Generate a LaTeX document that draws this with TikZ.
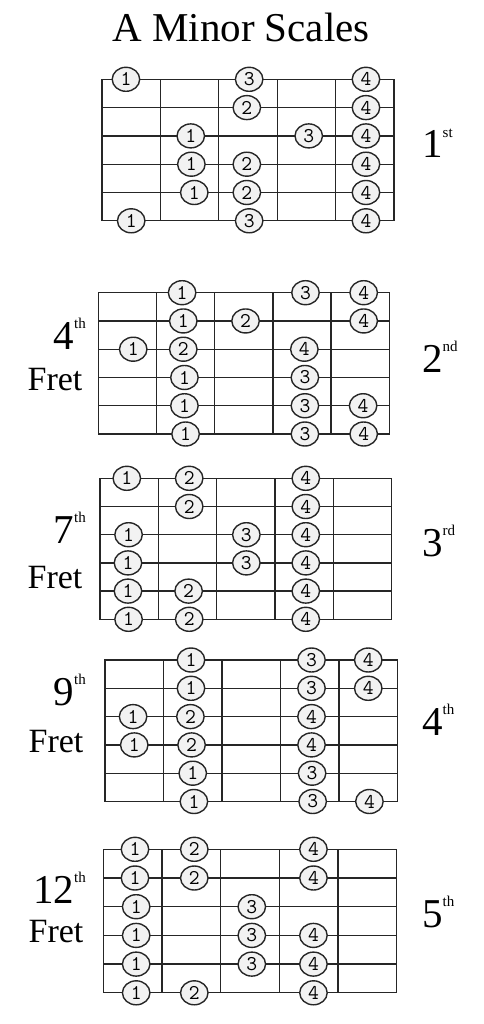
\documentclass[tikz,border=0pt]{standalone}
\usepackage{fontspec}
\setmainfont{Liberation Serif}
\usetikzlibrary{shapes.geometric}

\newcommand{\ordsup}[1]{\raisebox{0.5em}{\fontsize{15}{15}\selectfont #1}}

\begin{document}
\begin{tikzpicture}[x=1pt, y=-1pt,
    gridline/.style={line width=1.3pt, draw=black!85},
    fingerdot/.style={ellipse, draw=black!85, line width=1.4pt, fill=black!5,
        minimum width=27.5pt, minimum height=24pt, inner sep=0pt,
        font=\ttfamily\fontsize{21}{21}\selectfont},
    bignum/.style={inner sep=0pt, font=\fontsize{41}{41}\selectfont},
    fretword/.style={inner sep=0pt, anchor=base, font=\fontsize{34}{34}\selectfont}]

    % Page
    \useasboundingbox (0,0) rectangle (483,1024);

    % Title
    \node[bignum, anchor=base] (title) at (241,42) {A Minor Scales};

    % 1st position
    \begin{scope}[shift={(102,79.3)}, x=58.4pt, y=-28.3pt]
        \draw[gridline] (0,0) rectangle (5,5);
        \foreach \s in {1,...,4} {
            \draw[gridline] (0,\s) -- (5,\s);
        }
        \foreach \f in {1,...,4} {
            \draw[gridline] (\f,0) -- (\f,5);
        }
        \foreach \s/\p/\n [count=\i] in {0/0.41/1, 0/2.52/3, 0/4.52/4, 1/2.48/2, 1/4.52/4,
            2/1.52/1, 2/3.54/3, 2/4.52/4, 3/1.53/1, 3/2.48/2, 3/4.52/4,
            4/1.58/1, 4/2.48/2, 4/4.52/4, 5/0.5/1, 5/2.52/3, 5/4.52/4} {
            \node[fingerdot] (first-\i) at (\p,\s) {\n};
        }
    \end{scope}
    \node[bignum, anchor=base west] (pos1) at (422,158) {1\ordsup{st}};

    % 2nd position, 4th fret
    \begin{scope}[shift={(98.3,292.7)}, x=58.2pt, y=-28.26pt]
        \draw[gridline] (0,0) rectangle (5,5);
        \foreach \s in {1,...,4} {
            \draw[gridline] (0,\s) -- (5,\s);
        }
        \foreach \f in {1,...,4} {
            \draw[gridline] (\f,0) -- (\f,5);
        }
        \foreach \s/\p/\n [count=\i] in {0/1.44/1, 0/3.56/3, 0/4.56/4, 1/1.46/1, 1/2.53/2, 1/4.56/4,
            2/0.6/1, 2/1.46/2, 2/3.54/4, 3/1.48/1, 3/3.55/3,
            4/1.48/1, 4/3.55/3, 4/4.55/4, 5/1.5/1, 5/3.55/3, 5/4.56/4} {
            \node[fingerdot] (second-\i) at (\p,\s) {\n};
        }
    \end{scope}
    \node[bignum, anchor=base east] (fretnum2) at (86,349) {4\ordsup{th}};
    \node[fretword] (fret2) at (55,390) {Fret};
    \node[bignum, anchor=base west] (pos2) at (422,372) {2\ordsup{nd}};

    % 3rd position, 7th fret
    \begin{scope}[shift={(100,478.3)}, x=58.3pt, y=-28.2pt]
        \draw[gridline] (0,0) rectangle (5,5);
        \foreach \s in {1,...,4} {
            \draw[gridline] (0,\s) -- (5,\s);
        }
        \foreach \f in {1,...,4} {
            \draw[gridline] (\f,0) -- (\f,5);
        }
        \foreach \s/\p/\n [count=\i] in {0/0.46/1, 0/1.53/2, 0/3.53/4, 1/1.53/2, 1/3.53/4,
            2/0.49/1, 2/2.51/3, 2/3.53/4, 3/0.48/1, 3/2.51/3, 3/3.53/4,
            4/0.48/1, 4/1.52/2, 4/3.53/4, 5/0.49/1, 5/1.53/2, 5/3.53/4} {
            \node[fingerdot] (third-\i) at (\p,\s) {\n};
        }
    \end{scope}
    \node[bignum, anchor=base east] (fretnum3) at (86,543) {7\ordsup{th}};
    \node[fretword] (fret3) at (55,588) {Fret};
    \node[bignum, anchor=base west] (pos3) at (422,556) {3\ordsup{rd}};

    % 4th position, 9th fret
    \begin{scope}[shift={(105,660)}, x=58.5pt, y=-28.3pt]
        \draw[gridline] (0,0) rectangle (5,5);
        \foreach \s in {1,...,4} {
            \draw[gridline] (0,\s) -- (5,\s);
        }
        \foreach \f in {1,...,4} {
            \draw[gridline] (\f,0) -- (\f,5);
        }
        \foreach \s/\p/\n [count=\i] in {0/1.47/1, 0/3.53/3, 0/4.5/4, 1/1.47/1, 1/3.53/3, 1/4.5/4,
            2/0.48/1, 2/1.46/2, 2/3.53/4, 3/0.5/1, 3/1.48/2, 3/3.53/4,
            4/1.5/1, 4/3.54/3, 5/1.52/1, 5/3.55/3, 5/4.52/4} {
            \node[fingerdot] (fourth-\i) at (\p,\s) {\n};
        }
    \end{scope}
    \node[bignum, anchor=base east] (fretnum4) at (86,705) {9\ordsup{th}};
    \node[fretword] (fret4) at (56,752) {Fret};
    \node[bignum, anchor=base west] (pos4) at (422,735) {4\ordsup{th}};

    % 5th position, 12th fret
    \begin{scope}[shift={(103.3,849.3)}, x=58.7pt, y=-28.7pt]
        \draw[gridline] (0,0) rectangle (5,5);
        \foreach \s in {1,...,4} {
            \draw[gridline] (0,\s) -- (5,\s);
        }
        \foreach \f in {1,...,4} {
            \draw[gridline] (\f,0) -- (\f,5);
        }
        \foreach \s/\p/\n [count=\i] in {0/0.54/1, 0/1.55/2, 0/3.58/4, 1/0.54/1, 1/1.55/2, 1/3.58/4,
            2/0.56/1, 2/2.53/3, 3/0.56/1, 3/2.53/3, 3/3.58/4,
            4/0.56/1, 4/2.53/3, 4/3.58/4, 5/0.56/1, 5/1.55/2, 5/3.58/4} {
            \node[fingerdot] (fifth-\i) at (\p,\s) {\n};
        }
    \end{scope}
    \node[bignum, anchor=base east] (fretnum5) at (86,903) {12\ordsup{th}};
    \node[fretword] (fret5) at (56,942) {Fret};
    \node[bignum, anchor=base west] (pos5) at (422,927) {5\ordsup{th}};
\end{tikzpicture}
\end{document}
